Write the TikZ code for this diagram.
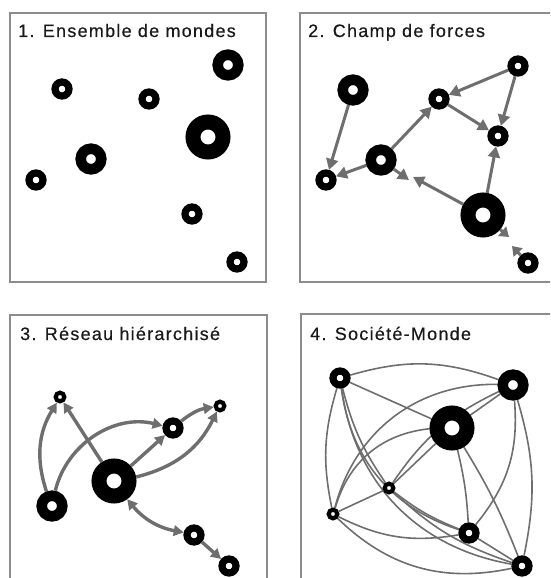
\documentclass[tikz,border=0pt]{standalone}
\usepackage{fontspec}
\setmainfont{Liberation Sans}
\usetikzlibrary{arrows.meta,backgrounds}
\definecolor{arr}{HTML}{6E6E6E}
\definecolor{frm}{HTML}{8C8C8C}
\definecolor{txt}{HTML}{1A1A1A}
\begin{document}
\begin{tikzpicture}[x=1pt,y=-1pt,
  ring/.style={circle,draw=black,fill=white,inner sep=0pt},
  tinyr/.style={ring,line width=4.2pt,minimum size=8.6pt},
  smallr/.style={ring,line width=7.2pt,minimum size=14pt},
  medr/.style={ring,line width=10.6pt,minimum size=20.6pt},
  larger/.style={ring,line width=15pt,minimum size=30pt},
  frame/.style={draw=frm,line width=1.2pt},
  title/.style={anchor=base west,inner sep=0pt,text=txt,font=\fontsize{18}{21}\selectfont\addfontfeatures{LetterSpace=7,FakeBold=0.4}},
  force/.style={draw=arr,line width=3pt,-{Triangle[length=11pt,width=12pt]}},
  shortforce/.style={draw=arr,line width=3pt,-{Triangle[length=9pt,width=12pt]}},
  link/.style={draw=arr,line width=3.4pt,-{Triangle[length=10pt,width=10.5pt]}},
  dlink/.style={draw=arr,line width=3.4pt,{Triangle[length=10pt,width=10.5pt]}-{Triangle[length=10pt,width=10.5pt]}},
  web/.style={draw=arr,line width=1.6pt}]
\useasboundingbox (0,0) rectangle (550,578);
\clip (0,0) rectangle (550,578);
% frames
\draw[frame] (10,13) rectangle (266,282);
\draw[frame] (300,13) rectangle (570,282);
\draw[frame] (10,315) rectangle (267,600);
\draw[frame] (301,314) rectangle (570,600);
% titles
\node[title] (t1) at (18,37) {1. Ensemble de mondes};
\node[title] (t2) at (308,37) {2. Champ de forces};
\node[title] (t3) at (20,340) {3. Réseau hiérarchisé};
\node[title] (t4) at (310,340) {4. Société-Monde};
% panel 1
\node[medr] (p1a) at (228,65) {};
\node[smallr] (p1b) at (62,89) {};
\node[smallr] (p1c) at (149,99) {};
\node[larger] (p1d) at (208,137) {};
\node[medr] (p1e) at (91,159) {};
\node[smallr] (p1f) at (36,180) {};
\node[smallr] (p1g) at (192,214) {};
\node[smallr] (p1h) at (237,262) {};
% panel 2
\node[medr] (q1) at (353,90) {};
\node[smallr] (q2) at (518,66) {};
\node[smallr] (q3) at (439,99) {};
\node[smallr] (q4) at (498,136) {};
\node[medr] (q5) at (381,160) {};
\node[smallr] (q6) at (326,180) {};
\node[larger] (q7) at (483,215) {};
\node[smallr] (q8) at (528,263) {};
\coordinate (m1) at (409,180);
\coordinate (m2) at (413,177);
\coordinate (m3) at (509,237);
\coordinate (m4) at (512,246);
\draw[force] (q1) -- (q6);
\draw[force] (q5) -- (q6);
\draw[force] (q5) -- (q3);
\draw[force] (q2) -- (q3);
\draw[force] (q2) -- (q4);
\draw[force] (q3) -- (q4);
\draw[force] (q7) -- (q4);
\draw[force] (q5) -- (m1);
\draw[force] (q7) -- (m2);
\draw[shortforce] (q7) -- (m3);
\draw[shortforce] (q8) -- (m4);
% panel 3
\node[tinyr] (r1) at (60,397) {};
\node[tinyr] (r2) at (220,406) {};
\node[smallr] (r3) at (173,428) {};
\node[larger] (r4) at (114,481) {};
\node[medr] (r5) at (52,506) {};
\node[smallr] (r6) at (194,535) {};
\node[smallr] (r7) at (229,566) {};
\draw[link] (r5) to[bend left=25] (r1);
\draw[link] (r4) -- (r1);
\draw[link] (r5) to[bend left=45] (r3);
\draw[link] (r4) -- (r3);
\draw[link] (r3) to[bend left=15] (r2);
\draw[link] (r4) to[bend right=25] (r2);
\draw[dlink] (r4) to[bend right=20] (r6);
\draw[link] (r6) -- (r7);
% panel 4
\node[smallr] (A) at (340,378) {};
\node[medr] (B) at (513,385) {};
\node[larger] (C) at (452,428) {};
\node[tinyr] (D) at (389,488) {};
\node[tinyr] (E) at (333,514) {};
\node[smallr] (F) at (469,533) {};
\node[smallr] (G) at (522,566) {};
\begin{scope}[on background layer]
\draw[web] (A) to[bend left=18] (B);
\draw[web] (A) -- (C);
\draw[web] (A) to[bend right=10] (D);
\draw[web] (A) to[bend right=14] (E);
\draw[web] (A) to[bend right=32] (F);
\draw[web] (A) to[bend right=36] (G);
\draw[web] (B) -- (C);
\draw[web] (B) to[bend right=15] (D);
\draw[web] (B) to[bend right=38] (E);
\draw[web] (B) to[bend left=22] (F);
\draw[web] (B) to[bend left=14] (G);
\draw[web] (C) -- (D);
\draw[web] (C) to[bend right=34] (E);
\draw[web] (C) to[bend left=5] (F);
\draw[web] (C) to[bend left=5] (G);
\draw[web] (D) -- (E);
\draw[web] (D) to[bend right=8] (F);
\draw[web] (D) to[bend right=12] (G);
\draw[web] (E) to[bend right=18] (F);
\draw[web] (E) to[bend right=28] (G);
\draw[web] (F) -- (G);
\end{scope}
\end{tikzpicture}
\end{document}
